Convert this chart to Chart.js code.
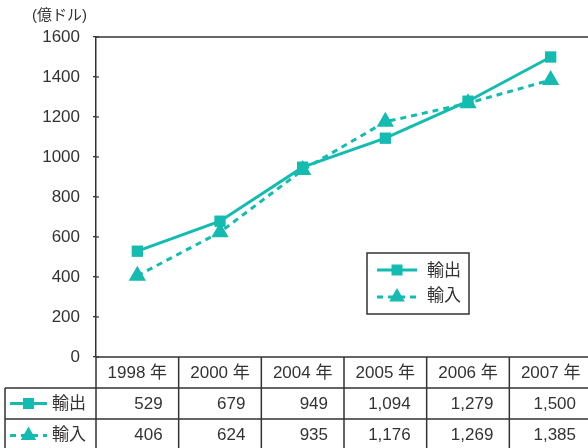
<!DOCTYPE html>
<html>
<head>
<meta charset="utf-8">
<script src="https://cdn.jsdelivr.net/npm/chart.js@4.4.1/dist/chart.umd.min.js"></script>
<style>
html,body{margin:0;padding:0;overflow:hidden;background:#fff;}
canvas{display:block;}
</style>
</head>
<body>
<canvas id="c" width="594" height="448" style="width:594px;height:448px;"></canvas>
<script>
const categories = ['1998 年', '2000 年', '2004 年', '2005 年', '2006 年', '2007 年'];
const exportsData = [529, 679, 949, 1094, 1279, 1500];
const importsData = [406, 624, 935, 1176, 1269, 1385];
const seriesNames = ['輸出', '輸入'];
const unitLabel = '(億ドル)';
const yTicks = [0, 200, 400, 600, 800, 1000, 1200, 1400, 1600];

const TEAL = '#13bbb0';
const INK = '#333333';
const FONT = "'Liberation Sans', 'Noto Sans CJK JP', sans-serif";

function drawMarker(ctx, style, x, y) {
  ctx.save();
  ctx.fillStyle = TEAL;
  ctx.setLineDash([]);
  ctx.beginPath();
  if (style === 'rect') {
    ctx.rect(x - 5.5, y - 5.5, 11, 11);
  } else {
    const r = 9;
    ctx.moveTo(x, y - r);
    ctx.lineTo(x + r * 0.866, y + r * 0.5);
    ctx.lineTo(x - r * 0.866, y + r * 0.5);
    ctx.closePath();
  }
  ctx.fill();
  ctx.restore();
}
function drawSample(ctx, dashed, style, x0, x1, y) {
  ctx.save();
  ctx.strokeStyle = TEAL;
  ctx.lineWidth = 3;
  ctx.setLineDash(dashed ? [6, 5] : []);
  ctx.beginPath();
  ctx.moveTo(x0, y); ctx.lineTo(x1, y);
  ctx.stroke();
  ctx.restore();
  drawMarker(ctx, style, (x0 + x1) / 2, y);
}

const extras = {
  id: 'extras',
  afterDraw(chart) {
    const ctx = chart.ctx;
    const ca = chart.chartArea;
    const xs = chart.scales.x;
    const ys = chart.scales.y;
    const W = chart.width;
    const H = chart.height;
    ctx.save();
    // unit label
    ctx.fillStyle = INK;
    ctx.font = "15px " + FONT;
    ctx.textAlign = 'left';
    ctx.textBaseline = 'middle';
    ctx.fillText(unitLabel, 32, 16);
    // top border
    ctx.strokeStyle = INK;
    ctx.lineWidth = 1.5;
    ctx.beginPath();
    ctx.moveTo(ca.left, ca.top); ctx.lineTo(W, ca.top);
    ctx.stroke();
    // inner tick marks
    ctx.lineWidth = 1.2;
    yTicks.forEach(v => {
      const y = ys.getPixelForValue(v);
      ctx.beginPath();
      ctx.moveTo(ca.left, y); ctx.lineTo(ca.left + 3, y);
      ctx.stroke();
    });
    // table
    const n = categories.length;
    const colW = (ca.right - ca.left) / n;
    const rowH = 31;
    const r0 = ca.bottom, r1 = r0 + rowH, r2 = r1 + rowH, r3 = r2 + rowH;
    const legL = 5;
    ctx.lineWidth = 1.5;
    ctx.beginPath();
    ctx.moveTo(ca.left, r0); ctx.lineTo(W, r0);
    ctx.moveTo(legL, r1); ctx.lineTo(W, r1);
    ctx.moveTo(legL, r2); ctx.lineTo(W, r2);
    ctx.moveTo(legL, r3); ctx.lineTo(W, r3);
    ctx.moveTo(ca.left, r0); ctx.lineTo(ca.left, H);
    ctx.moveTo(legL, r1); ctx.lineTo(legL, H);
    for (let i = 1; i <= n; i++) {
      const x = ca.left + colW * i;
      ctx.moveTo(x, r0); ctx.lineTo(x, H);
    }
    ctx.stroke();
    ctx.fillStyle = INK;
    ctx.font = "17px " + FONT;
    ctx.textBaseline = 'middle';
    for (let i = 0; i < n; i++) {
      const cx = xs.getPixelForValue(i);
      ctx.textAlign = 'center';
      ctx.fillText(categories[i], cx, (r0 + r1) / 2 + 1);
      const right = cx + colW / 2 - 16;
      ctx.textAlign = 'right';
      ctx.fillText(exportsData[i].toLocaleString('en-US'), right, (r1 + r2) / 2 + 1);
      ctx.fillText(importsData[i].toLocaleString('en-US'), right, (r2 + r3) / 2 + 1);
    }
    // table legend column
    drawSample(ctx, false, 'rect', 10, 47, (r1 + r2) / 2);
    drawSample(ctx, true, 'triangle', 10, 47, (r2 + r3) / 2 + 1);
    ctx.fillStyle = INK;
    ctx.textAlign = 'left';
    ctx.font = "17px " + FONT;
    ctx.fillText(seriesNames[0], 52, (r1 + r2) / 2 + 1);
    ctx.fillText(seriesNames[1], 52, (r2 + r3) / 2 + 1);
    // floating legend
    const bx = 367, by = 253, bw = 102, bh = 61;
    ctx.fillStyle = '#fff';
    ctx.fillRect(bx, by, bw, bh);
    ctx.strokeStyle = INK;
    ctx.lineWidth = 1.5;
    ctx.strokeRect(bx, by, bw, bh);
    drawSample(ctx, false, 'rect', 377, 417, 270);
    drawSample(ctx, true, 'triangle', 377, 417, 297);
    ctx.fillStyle = INK;
    ctx.textAlign = 'left';
    ctx.fillText(seriesNames[0], 427, 271);
    ctx.fillText(seriesNames[1], 427, 296);
    ctx.restore();
  }
};

new Chart(document.getElementById('c'), {
  type: 'line',
  data: {
    labels: categories,
    datasets: [
      {
        label: seriesNames[0],
        data: exportsData,
        borderColor: TEAL,
        backgroundColor: TEAL,
        borderWidth: 3,
        pointStyle: 'rect',
        pointRadius: 8,
        pointBorderWidth: 0,
        tension: 0
      },
      {
        label: seriesNames[1],
        data: importsData,
        borderColor: TEAL,
        backgroundColor: TEAL,
        borderWidth: 3,
        borderDash: [6, 5],
        pointStyle: 'triangle',
        pointRadius: 10,
        pointBorderWidth: 0,
        tension: 0
      }
    ]
  },
  options: {
    responsive: false,
    maintainAspectRatio: false,
    devicePixelRatio: 1,
    animation: false,
    events: [],
    layout: { autoPadding: false, padding: { top: 37, bottom: 91, left: 0, right: 2 } },
    plugins: { legend: { display: false }, tooltip: { enabled: false } },
    scales: {
      x: {
        type: 'category',
        offset: true,
        display: false,
        grid: { display: false }
      },
      y: {
        min: 0,
        max: 1600,
        afterFit(s) { s.width = 96; },
        afterBuildTicks(s) { s.ticks = yTicks.map(v => ({ value: v })); },
        ticks: {
          color: INK,
          font: { family: FONT, size: 17 },
          padding: 13,
          callback: (v) => String(v)
        },
        grid: { drawOnChartArea: false, drawTicks: true, tickLength: 3, color: INK, lineWidth: 1.2 },
        border: { display: true, color: INK, width: 1.5 }
      }
    }
  },
  plugins: [extras]
});
</script>
</body>
</html>
